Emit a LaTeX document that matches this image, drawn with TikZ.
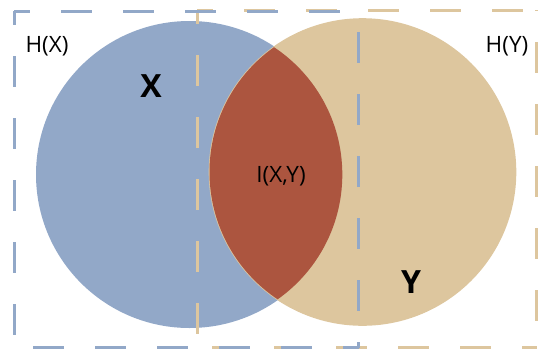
\documentclass[tikz,border=0pt]{standalone}
\usepackage{fontspec}
\setmainfont{Open Sans}
\definecolor{bluef}{HTML}{92A8C8}
\definecolor{tanf}{HTML}{DDC69E}
\definecolor{redf}{HTML}{AC553F}
\begin{document}
\begin{tikzpicture}[x=1pt,y=-1pt,
  bdash/.style={draw=bluef,line width=3pt,dash pattern=on 31pt off 31pt},
  tdash/.style={draw=tanf,line width=3pt,dash pattern=on 31pt off 31pt},
  lbl/.style={inner sep=0pt,anchor=base,font=\fontsize{22.5}{26}\selectfont},
  big/.style={inner sep=0pt,anchor=base,font=\fontsize{32}{36}\selectfont\bfseries}]
\useasboundingbox (0,0) rectangle (538,349);
% circles
\fill[bluef] (189.5,174.5) circle (153.5);
\fill[tanf] (362.5,172) circle (153.8);
% corners
\coordinate (b1) at (14,11);
\coordinate (b2) at (358.5,11);
\coordinate (b3) at (358.5,347.5);
\coordinate (b4) at (14,347.5);
\coordinate (t1) at (197,10);
\coordinate (t2) at (536.5,10);
\coordinate (t3) at (536.5,347.5);
\coordinate (t4) at (197,347.5);
% tan rectangle
\draw[tdash,dash phase=15] (t1) -- (t2);
\draw[tdash,dash phase=30] (t2) -- (t3);
\draw[tdash,dash phase=47] (t4) -- (t3);
\draw[tdash,dash phase=17] (t1) -- (t4);
% blue rectangle
\draw[bdash,dash phase=15] (b1) -- (b2);
\draw[bdash,dash phase=41] (b2) -- (b3);
\draw[bdash,dash phase=43] (b4) -- (b3);
\draw[bdash,dash phase=17] (b1) -- (b4);
% lens
\begin{scope}
\clip (189.5,174.5) circle (152.8);
\fill[redf] (362.5,172) circle (153);
\end{scope}
% labels
\node[lbl] (hx) at (47,52) {H(X)};
\node[lbl] (hy) at (507,52) {H(Y)};
\node[lbl] (ixy) at (281,182) {I(X,Y)};
\node[big] (x) at (151,97) {X};
\node[big] (y) at (411,293) {Y};
\end{tikzpicture}
\end{document}
